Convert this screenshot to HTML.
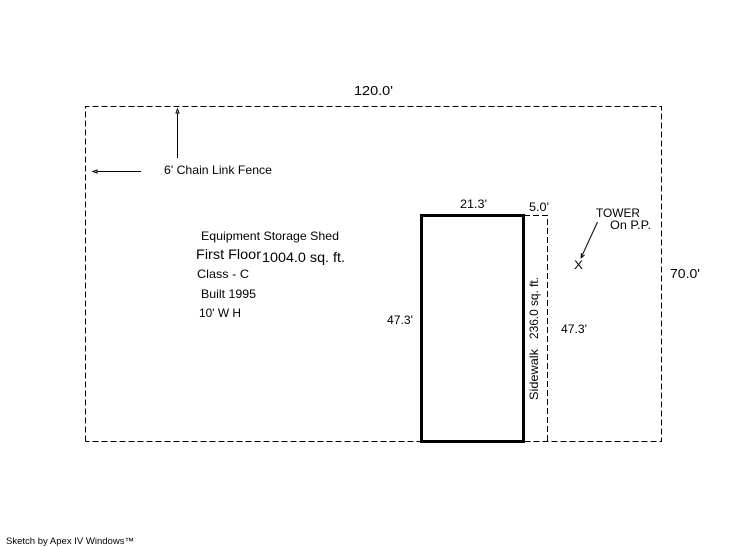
<!DOCTYPE html>
<html><head><meta charset="utf-8">
<style>
html,body{margin:0;padding:0;background:#fff;width:746px;height:547px;overflow:hidden}
svg{display:block}
text{font-family:"Liberation Sans",Arial,sans-serif;fill:#000}
</style></head>
<body>
<svg width="746" height="547" viewBox="0 0 746 547" xmlns="http://www.w3.org/2000/svg">
<g fill="none" stroke="#000" stroke-width="1" stroke-dasharray="6 3" shape-rendering="crispEdges">
<path d="M85.5 441.5V106.5H661.5V441.5H85.5"/>
<path d="M524 215.5H547.5V441"/>
</g>
<rect x="421.5" y="215.5" width="102" height="226" fill="none" stroke="#000" stroke-width="3" shape-rendering="crispEdges"/>
<g stroke="#000" stroke-width="1" fill="none">
<path d="M177.5 158V112" shape-rendering="crispEdges"/>
<path d="M141 171.5H97" shape-rendering="crispEdges"/>
<path d="M177.5 109L176 113H179Z" fill="#fff"/>
<path d="M93 171.5L97 170V173Z" fill="#fff"/>
<path d="M597.5 222L581 258"/>
<path d="M581 258L581.5 253M581 258L584.5 255"/>
</g>
<text x="354" y="95" font-size="13" textLength="39" lengthAdjust="spacingAndGlyphs">120.0'</text>
<text x="164" y="174" font-size="12" textLength="108" lengthAdjust="spacingAndGlyphs">6' Chain Link Fence</text>
<text x="201" y="240" font-size="12" textLength="138" lengthAdjust="spacingAndGlyphs">Equipment Storage Shed</text>
<text x="196" y="259" font-size="14" textLength="65" lengthAdjust="spacingAndGlyphs">First Floor</text>
<text x="262" y="262" font-size="14" textLength="83" lengthAdjust="spacingAndGlyphs">1004.0 sq. ft.</text>
<text x="197" y="278" font-size="12" textLength="52" lengthAdjust="spacingAndGlyphs">Class - C</text>
<text x="201" y="298" font-size="12" textLength="55" lengthAdjust="spacingAndGlyphs">Built 1995</text>
<text x="199" y="317" font-size="12" textLength="42" lengthAdjust="spacingAndGlyphs">10' W H</text>
<text x="460" y="208" font-size="12" textLength="27" lengthAdjust="spacingAndGlyphs">21.3'</text>
<text x="529" y="211" font-size="12" textLength="20" lengthAdjust="spacingAndGlyphs">5.0'</text>
<text x="596" y="217" font-size="12" textLength="44" lengthAdjust="spacingAndGlyphs">TOWER</text>
<text x="610" y="229" font-size="12" textLength="41" lengthAdjust="spacingAndGlyphs">On P.P.</text>
<text x="574" y="269" font-size="12" textLength="9" lengthAdjust="spacingAndGlyphs">X</text>
<text x="670" y="278" font-size="13" textLength="30" lengthAdjust="spacingAndGlyphs">70.0'</text>
<text x="387" y="324" font-size="12" textLength="26" lengthAdjust="spacingAndGlyphs">47.3'</text>
<text x="561" y="333" font-size="12" textLength="26" lengthAdjust="spacingAndGlyphs">47.3'</text>
<text transform="translate(538 400) rotate(-90)" font-size="12" textLength="51" lengthAdjust="spacingAndGlyphs">Sidewalk</text>
<text transform="translate(538 339) rotate(-90)" font-size="12" textLength="62" lengthAdjust="spacingAndGlyphs">236.0 sq. ft.</text>
<text x="6" y="544" font-size="9" textLength="128" lengthAdjust="spacingAndGlyphs">Sketch by Apex IV Windows™</text>
</svg>
</body></html>
